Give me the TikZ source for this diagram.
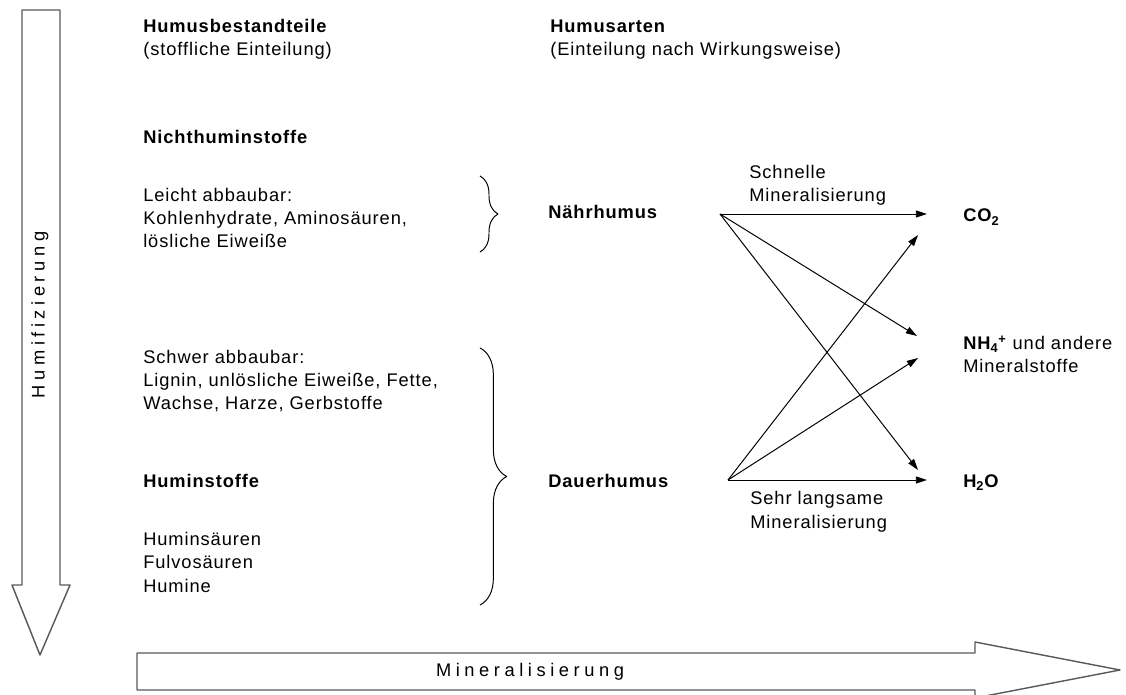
\documentclass[tikz,border=0pt]{standalone}
\usepackage{fontspec}
\setmainfont{Liberation Sans}[LetterSpace=5]
\newfontfamily\spreadfont{Liberation Sans}[LetterSpace=25]
\usetikzlibrary{arrows.meta,decorations.pathreplacing,positioning}

\begin{document}
\begin{tikzpicture}[x=0.025cm, y=-0.025cm, font=\fontsize{13}{16.7}\selectfont, line join=round,
	txt/.style={anchor=base west, inner sep=0pt, align=left},
	head/.style={txt, font=\fontsize{13}{16.7}\selectfont\bfseries},
	flow/.style={-{Triangle[length=8pt,width=5pt]}, line width=0.7pt},
	bigarrow/.style={draw=black!65, line width=1pt, fill=white},
	curly/.style={decorate, decoration={brace, amplitude=#1}, line width=0.7pt}]
	\useasboundingbox (0,0) rectangle (1126,695);
	% grosse Pfeile
	\draw[bigarrow] (22,10)--(60,10)--(60,585)--(70,585)--(40,655)--(12,585)--(22,585)--cycle;
	\draw[bigarrow] (137,653)--(975,653)--(975,642)--(1120,670)--(975,698)--(975,690)--(137,690)--cycle;
	\node[rotate=90, font=\fontsize{13}{16}\spreadfont] (humi) at (40,315) {Humifizierung};
	\node[font=\fontsize{13}{16}\spreadfont] (mineral) at (530,672) {Mineralisierung};
	% Spalte links (mehrzeilige Knoten sitzen auf der letzten Grundlinie)
	\node[head] (bestand) at (143,56) {Humusbestandteile\\\mdseries(stoffliche Einteilung)};
	\node[head] (nicht) at (143,144) {Nichthuminstoffe};
	\node[txt] (leicht) at (143,248) {Leicht abbaubar:\\Kohlenhydrate, Aminosäuren,\\lösliche Eiweiße};
	\node[txt] (schwer) at (143,410) {Schwer abbaubar:\\Lignin, unlösliche Eiweiße, Fette,\\Wachse, Harze, Gerbstoffe};
	\node[head] (humin) at (143,487) {Huminstoffe};
	\node[txt] (saeuren) at (143,592) {Huminsäuren\\Fulvosäuren\\Humine};
	\draw[curly=12.8pt] (480,176)--(480,252);
	\draw[curly=19pt] (480,348)--(480,605);
	% Spalte Mitte
	\node[head] (arten) at (550,56) {Humusarten\\\mdseries(Einteilung nach Wirkungsweise)};
	\node[head] (naehr) at (548,219) {Nährhumus};
	\node[head] (dauer) at (548,487) {Dauerhumus};
	% Endprodukte
	\node[head] (co2) at (963,222) {CO\textsubscript{2}};
	\node[txt] (nh4) at (963,373) {\textbf{NH\textsubscript{4}\textsuperscript{+}} und andere\\Mineralstoffe};
	\node[head] (h2o) at (963,487) {H\textsubscript{2}O};
	\node[txt] (schnell) at (749,202) {Schnelle\\Mineralisierung};
	\node[txt] (langsam) at (750,528) {Sehr langsame\\Mineralisierung};
	\coordinate (n0) at (720,214); \coordinate (d0) at (728,480);
	\coordinate (co2a) at (927,214); \coordinate (co2b) at (918,235);
	\coordinate (nh4a) at (917,336); \coordinate (nh4b) at (918,358);
	\coordinate (h2oa) at (918,470); \coordinate (h2ob) at (927,480);
	\draw[flow] (n0)--(co2a); \draw[flow] (n0)--(nh4a); \draw[flow] (n0)--(h2oa);
	\draw[flow] (d0)--(co2b); \draw[flow] (d0)--(nh4b); \draw[flow] (d0)--(h2ob);
\end{tikzpicture}
\end{document}
